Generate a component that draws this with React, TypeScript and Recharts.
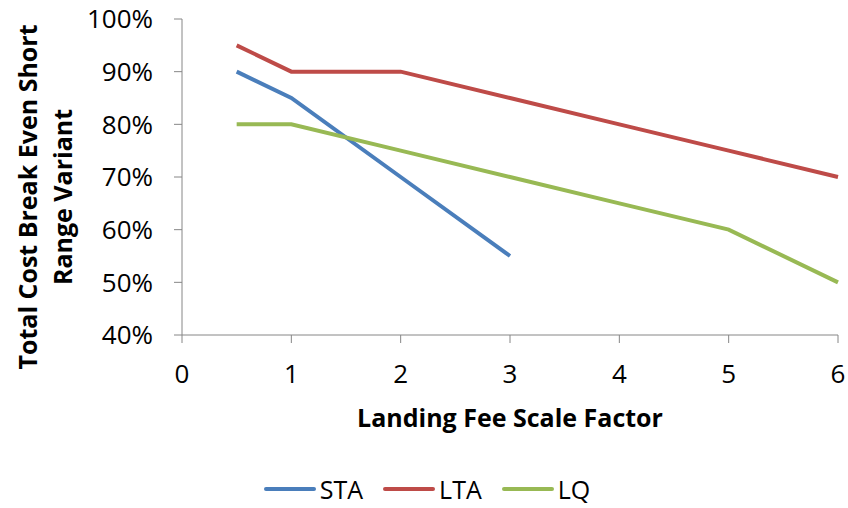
import React from 'react';
import { LineChart, Line, XAxis, YAxis, Legend } from 'recharts';

const staX = [0.5, 1, 2, 3];
const staY = [0.9, 0.85, 0.7, 0.55];
const ltaX = [0.5, 1, 2, 3, 4, 5, 6];
const ltaY = [0.95, 0.9, 0.9, 0.85, 0.8, 0.75, 0.7];
const lqX = [0.5, 1, 2, 3, 4, 5, 6];
const lqY = [0.8, 0.8, 0.75, 0.7, 0.65, 0.6, 0.5];
const xTicks = [0, 1, 2, 3, 4, 5, 6];
const yTicks = [0.4, 0.5, 0.6, 0.7, 0.8, 0.9, 1.0];
const seriesNames = ['STA', 'LTA', 'LQ'];
const colors = ['#4A7EBB', '#BE4B48', '#98B954'];

const toData = (xs: number[], ys: number[]) => xs.map((x, i) => ({ x, y: ys[i] }));
const series = [toData(staX, staY), toData(ltaX, ltaY), toData(lqX, lqY)];

const FONT = '"Open Sans", sans-serif';
const AXIS = '#868686';

const YLabel = () => (
  <g>
    <text
      transform="translate(27,197) rotate(-90)"
      textAnchor="middle"
      dominantBaseline="central"
      fontFamily={FONT}
      fontWeight="bold"
      fontSize={25}
      fill="#000"
    >
      Total Cost Break Even Short
    </text>
    <text
      transform="translate(62,197) rotate(-90)"
      textAnchor="middle"
      dominantBaseline="central"
      fontFamily={FONT}
      fontWeight="bold"
      fontSize={25}
      fill="#000"
    >
      Range Variant
    </text>
  </g>
);

const LegendContent = () => (
  <div
    style={{
      display: 'flex',
      justifyContent: 'center',
      alignItems: 'flex-start',
      fontFamily: FONT,
      fontSize: 25,
      color: '#000',
      height: 50,
      boxSizing: 'border-box',
      paddingLeft: 16,
      paddingTop: 14,
    }}
  >
    {seriesNames.map((n, i) => (
      <div key={n} style={{ display: 'flex', alignItems: 'center', marginRight: i < 2 ? 20 : 0 }}>
        <div style={{ width: 52, height: 4, borderRadius: 2, background: colors[i], marginRight: 4 }} />
        <span>{n}</span>
      </div>
    ))}
  </div>
);

export default function App() {
  return (
    <div style={{ position: 'absolute', left: 0, top: 0, width: 848, height: 508, background: '#fff' }}>
      <LineChart width={848} height={508} margin={{ top: 19, right: 10, left: 0, bottom: 0 }}>
        <XAxis
          type="number"
          dataKey="x"
          domain={[0, 6]}
          ticks={xTicks}
          allowDuplicatedCategory={false}
          height={123}
          stroke={AXIS}
          tickSize={8}
          tickMargin={22}
          tick={{ fill: '#000', fontSize: 26, fontFamily: FONT }}
          label={{
            value: 'Landing Fee Scale Factor',
            position: 'insideTop',
            offset: 74,
            fill: '#000',
            fontSize: 25,
            fontWeight: 'bold',
            fontFamily: FONT,
          }}
        />
        <YAxis
          type="number"
          domain={[0.4, 1.0]}
          ticks={yTicks}
          width={182}
          stroke={AXIS}
          tickSize={8}
          tickMargin={21}
          tickFormatter={(v: number) => `${Math.round(v * 100)}%`}
          tick={{ fill: '#000', fontSize: 26, fontFamily: FONT }}
          label={{ content: () => <YLabel /> }}
        />
        <Legend verticalAlign="bottom" height={50} content={() => <LegendContent />} wrapperStyle={{ bottom: 0 }} />
        {series.map((d, i) => (
          <Line
            key={seriesNames[i]}
            data={d}
            dataKey="y"
            name={seriesNames[i]}
            stroke={colors[i]}
            strokeWidth={4}
            dot={false}
            isAnimationActive={false}
            type="linear"
          />
        ))}
      </LineChart>
    </div>
  );
}
